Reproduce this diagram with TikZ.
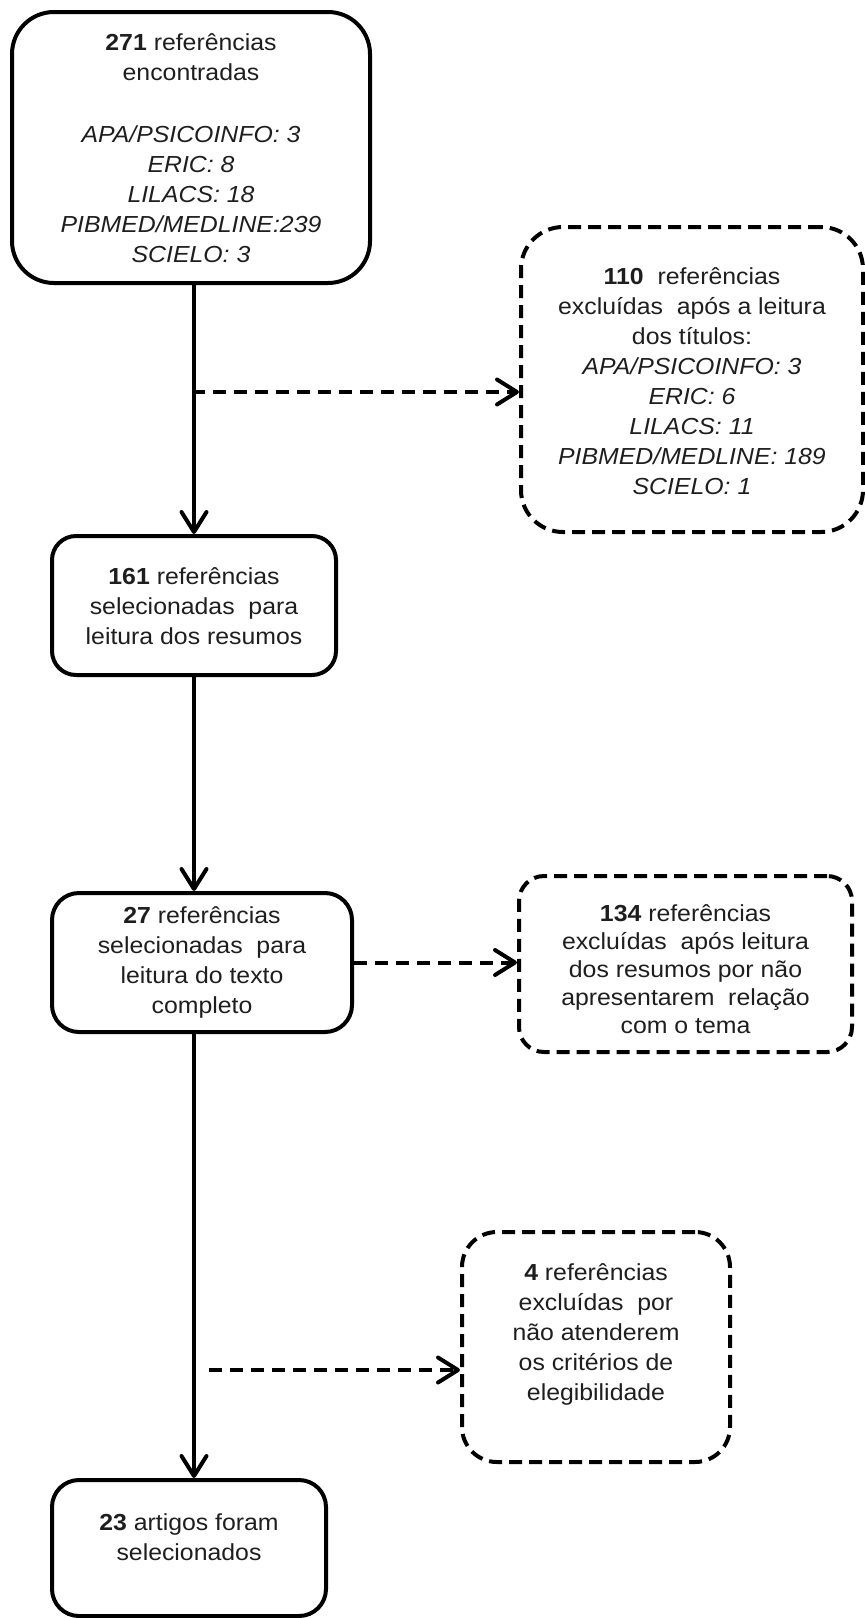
\documentclass[tikz,border=0pt]{standalone}
\usepackage{fontspec}
\setmainfont{Liberation Sans}[FakeStretch=1.07]
\usetikzlibrary{arrows.meta}
\definecolor{txt}{HTML}{1E1E1E}
\newcommand{\bxt}[5]{\parbox[c][#2pt][t]{#1pt}{\centering\color{txt}\fontsize{23.2pt}{#4pt}\selectfont\vspace*{#3pt}\rule{0pt}{22pt}#5}}
\begin{document}
\begin{tikzpicture}[x=1pt,y=-1pt,
  solidbox/.style={draw, line width=4pt, inner sep=0pt, anchor=north west},
  dbox/.style={solidbox, dash pattern=on 13pt off 7pt},
  tipv/.style={-{Straight Barb[length=20pt,width=25pt,round]}},
  arr/.style={line width=4pt, tipv},
  darr/.style={line width=4pt, tipv, dash pattern=on 13pt off 8pt}]
\useasboundingbox (0,0) rectangle (865,1618);

\node[solidbox, rounded corners=42pt] (b1) at (10,10)
  {\bxt{358}{271}{16}{30}{\textbf{271} referências\\ encontradas\\[32pt]
   \textit{APA/PSICOINFO: 3}\\ \textit{ERIC: 8}\\ \textit{LILACS: 18}\\
   \textit{PIBMED/MEDLINE:239}\\ \textit{SCIELO: 3}}};

\node[dbox, rounded corners=42pt] (b110) at (519,225)
  {\bxt{342}{305}{35}{30}{\textbf{110} \ referências\\ excluídas \ após a leitura\\ dos títulos:\\
   \textit{APA/PSICOINFO: 3}\\ \textit{ERIC: 6}\\ \textit{LILACS: 11}\\
   \textit{PIBMED/MEDLINE: 189}\\ \textit{SCIELO: 1}}};

\node[solidbox, rounded corners=24pt] (b161) at (50,534)
  {\bxt{284}{139}{26}{30}{\textbf{161} referências\\ selecionadas \ para\\ leitura dos resumos}};

\node[solidbox, rounded corners=27pt] (b27) at (50,891)
  {\bxt{300}{139}{8}{30}{\textbf{27} referências\\ selecionadas \ para\\ leitura do texto\\ completo}};

\node[dbox, rounded corners=25pt] (b134) at (517,874)
  {\bxt{333}{176}{23}{28}{\textbf{134} referências\\ excluídas \ após leitura\\ dos resumos por não\\ apresentarem \ relação\\ com o tema}};

\node[dbox, rounded corners=35pt] (b4) at (460,1230)
  {\bxt{268}{230}{26}{30}{\textbf{4} referências\\ excluídas \ por\\ não atenderem\\ os critérios de\\ elegibilidade}};

\node[solidbox, rounded corners=27pt] (b23) at (50,1478)
  {\bxt{274}{136}{28}{30}{\textbf{23} artigos foram\\ selecionados}};

\coordinate (j1) at (192,392);
\coordinate (j3) at (209,1370);

\draw[arr] (b161.north |- b1.south) -- (b161.north);
\draw[arr] (b161.south) -- (b161.south |- b27.north);
\draw[arr] (b161.south |- b27.south) -- (b161.south |- b23.north);
\draw[darr] (j1) -- (j1 -| b110.west);
\draw[darr] (b27.east) -- (b27.east -| b134.west);
\draw[darr] (j3) -- (j3 -| b4.west);
\end{tikzpicture}
\end{document}
